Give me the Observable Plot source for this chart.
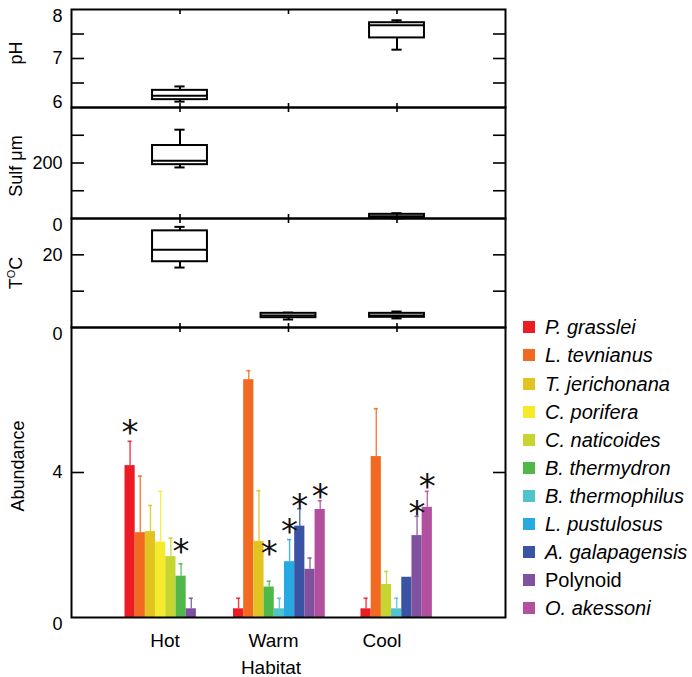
<!DOCTYPE html>
<html><head><meta charset="utf-8">
<script src="https://cdn.jsdelivr.net/npm/d3@7"></script>
<script src="https://cdn.jsdelivr.net/npm/@observablehq/plot@0.6"></script>
<style>
body{margin:0;background:#fff;font-family:"Liberation Sans",Arial,sans-serif;color:#000;}
#wrap{position:relative;width:692px;height:677px;overflow:hidden;background:#fff;}
#wrap svg{position:absolute;left:0;}
.ylab{position:absolute;transform:translate(-50%,-50%) rotate(-90deg);white-space:nowrap;font-size:18px;line-height:1;}
.ylab sup{font-size:11px;vertical-align:7px;line-height:0;}
.xlab{position:absolute;transform:translate(-50%,-50%);white-space:nowrap;font-size:19px;line-height:1;}
.leg{position:absolute;font-size:20px;line-height:1;white-space:nowrap;}
.leg .sw{position:absolute;width:12px;height:12px;}
.leg .tx{position:absolute;transform:translateY(-50%);}
</style></head><body><div id="wrap"></div>
<script>
// ---------------- data ----------------
const habitats = ["Hot", "Warm", "Cool"];
const species = ["P. grasslei", "L. tevnianus", "T. jerichonana", "C. porifera", "C. naticoides",
  "B. thermydron", "B. thermophilus", "L. pustulosus", "A. galapagensis", "Polynoid", "O. akessoni"];
const speciesColors = ["#ec1c24", "#f26a22", "#e3c322", "#f5eb2a", "#c6d530", "#4fb848",
  "#4fc4cd", "#27a9e1", "#3a53a4", "#7f519f", "#b24f9f"];

// five-number summaries: [low whisker, Q1, median, Q3, high whisker]
const pHHot = [6.12, 6.16, 6.24, 6.35, 6.43];
const pHCool = [7.18, 7.42, 7.68, 7.73, 7.78];
const sulfHot = [184, 194, 208, 263, 320];
const sulfCool = [0.5, 1.5, 8, 15, 19];
const tempHot = [16.5, 18.1, 21.4, 26.6, 27.7];
const tempWarm = [2.2, 2.7, 3.3, 3.9, 4.1];
const tempCool = [2.5, 2.8, 3.3, 3.9, 4.4];

// abundance means and errors, species order
const abundHot  = [4.19, 2.34, 2.37, 2.08, 1.68, 1.14, 0, 0, 0, 0.24, 0];
const errHot    = [0.67, 1.56, 0.72, 1.40, 0.51, 0.34, 0, 0, 0, 0.29, 0];
const abundWarm = [0.24, 6.56, 2.10, 0, 0, 0.84, 0.24, 1.54, 2.52, 1.33, 2.98];
const errWarm   = [0.29, 0.25, 1.40, 0, 0, 0.16, 0.29, 0.61, 0.48, 0.31, 0.24];
const abundCool = [0.24, 4.44, 0, 0, 0.91, 0, 0.24, 0, 1.11, 2.26, 3.04];
const errCool   = [0.29, 1.32, 0, 0, 0.36, 0, 0.29, 0, 0, 0.53, 0.44];
// significance asterisk heights (abundance units), null = none
const starHot  = [5.34, null, null, null, null, 2.05, null, null, null, null, null];
const starWarm = [null, null, null, null, null, 2.01, null, 2.61, 3.30, null, 3.56];
const starCool = [null, null, null, null, null, null, null, null, null, 3.09, 3.85];

// ---------------- layout ----------------
const W = 692, ML = 71, MR = 187, PAD = 22;
const wrap = document.getElementById("wrap");
const font = "Liberation Sans, Arial, sans-serif";
const boxHalf = 0.253, capHalf = 0.047, barW = 0.094, eCap = 0.019;
const groupStart = {Hot: -0.507, Warm: -0.507, Cool: -0.332};

function inwardTicks(ticks) {
  return [
    Plot.axisY({anchor: "left", ticks, tickSize: -13, tickFormat: () => "", label: null, strokeWidth: 1.6}),
    Plot.axisY({anchor: "right", ticks, tickSize: -13, tickFormat: () => "", label: null, strokeWidth: 1.6})
  ];
}
function catTicks(anchors) {
  return anchors.map(a => Plot.axisX({anchor: a, ticks: [1, 2, 3], tickSize: -4, tickFormat: () => "", label: null, strokeWidth: 1.6}));
}
function labels(list) {
  return list.map(([v, anchor]) => Plot.axisY({anchor: "left", ticks: [v], tickSize: 0, tickPadding: 9,
    fontSize: 18, lineAnchor: anchor, label: null, tickFormat: d => String(d)}));
}
function boxMarks(boxes) {
  const data = boxes.map(([hi, s]) => ({c: hi + 1, lo: s[0], q1: s[1], med: s[2], q3: s[3], hi: s[4]}));
  const st = {stroke: "#000", strokeWidth: 2};
  return [
    Plot.ruleX(data, {x: "c", y1: "q3", y2: "hi", ...st}),
    Plot.ruleX(data, {x: "c", y1: "lo", y2: "q1", ...st}),
    Plot.ruleY(data, {y: "hi", x1: d => d.c - capHalf, x2: d => d.c + capHalf, ...st}),
    Plot.ruleY(data, {y: "lo", x1: d => d.c - capHalf, x2: d => d.c + capHalf, ...st}),
    Plot.rect(data, {x1: d => d.c - boxHalf, x2: d => d.c + boxHalf, y1: "q1", y2: "q3", fill: "white", ...st}),
    Plot.ruleY(data, {y: "med", x1: d => d.c - boxHalf, x2: d => d.c + boxHalf, ...st})
  ];
}
function panel(top, bottom, domain, marks, extraBottom = 0) {
  const svg = Plot.plot({
    width: W, height: bottom - top + 2 * PAD + extraBottom,
    marginLeft: ML, marginRight: MR, marginTop: PAD, marginBottom: PAD + extraBottom,
    x: {domain: [0, 4], axis: null, label: null},
    y: {domain, axis: null, label: null},
    color: {domain: species, range: speciesColors},
    style: {background: "transparent", overflow: "visible", fontFamily: font, fontSize: "18px", color: "#000"},
    marks
  });
  svg.style.top = (top - PAD) + "px";
  wrap.appendChild(svg);
}

// pH
panel(9, 107, [6, 8], [
  ...boxMarks([[0, pHHot], [2, pHCool]]),
  ...inwardTicks([6.5, 7, 7.5]),
  ...catTicks(["top", "bottom"]),
  ...labels([[8, "top"], [7, "middle"], [6, "bottom"]]),
  Plot.frame({stroke: "#000", strokeWidth: 2})
]);
// Sulfide
panel(107, 218, [0, 400], [
  ...boxMarks([[0, sulfHot], [2, sulfCool]]),
  ...inwardTicks([100, 200, 300]),
  ...catTicks(["top", "bottom"]),
  ...labels([[200, "middle"], [0, "top"]]),
  Plot.frame({stroke: "#000", strokeWidth: 2})
]);
// Temperature
panel(218, 327, [0, 30], [
  ...boxMarks([[0, tempHot], [1, tempWarm], [2, tempCool]]),
  ...inwardTicks([10, 20]),
  ...catTicks(["top", "bottom"]),
  ...labels([[20, "middle"], [0, "top"]]),
  Plot.frame({stroke: "#000", strokeWidth: 2})
]);

// Abundance bars
const abund = {Hot: abundHot, Warm: abundWarm, Cool: abundCool};
const errs = {Hot: errHot, Warm: errWarm, Cool: errCool};
const stars = {Hot: starHot, Warm: starWarm, Cool: starCool};
const bars = habitats.flatMap((h, hi) => {
  let k = 0;
  return species.map((s, si) => ({h, s, v: abund[h][si], e: errs[h][si], star: stars[h][si]}))
    .filter(d => d.v > 0)
    .map(d => {
      const x1 = hi + 1 + groupStart[h] + (k++) * barW;
      return {...d, x1, x2: x1 + barW, mid: x1 + barW / 2, top: d.v + d.e};
    });
});
const errBars = bars.filter(d => d.e > 0);
const starBars = bars.filter(d => d.star != null);

panel(327, 617, [0, 8], [
  Plot.rectY(bars, {x1: "x1", x2: "x2", y: "v", fill: "s"}),
  Plot.ruleX(errBars, {x: "mid", y1: "v", y2: "top", stroke: "s", strokeWidth: 1.4, strokeOpacity: 0.85}),
  Plot.ruleY(errBars, {y: "top", x1: d => d.mid - eCap, x2: d => d.mid + eCap, stroke: "s", strokeWidth: 1.6, strokeOpacity: 0.85}),
  Plot.text(starBars, {x: "mid", y: "star", text: () => "*", fontSize: 34, fontFamily: "DejaVu Sans", dy: 9, fill: "#111"}),
  ...inwardTicks([4]),
  ...catTicks(["top"]),
  ...labels([[4, "middle"], [0, "top"]]),
  Plot.axisX({anchor: "bottom", ticks: [1, 2, 3], tickSize: 0, tickPadding: 16, dx: -15, fontSize: 19, label: null,
    tickFormat: d => habitats[d - 1]}),
  Plot.frame({stroke: "#000", strokeWidth: 2})
], 40);

// axis titles
function addLab(cls, html, x, y) {
  const d = document.createElement("div");
  d.className = cls; d.innerHTML = html;
  d.style.left = x + "px"; d.style.top = y + "px";
  wrap.appendChild(d);
}
addLab("ylab", "pH", 16, 53);
addLab("ylab", "Sulf \u03bcm", 16, 166);
addLab("ylab", "T<sup>O</sup>C", 16, 273);
addLab("ylab", "Abundance", 18, 466);
addLab("xlab", "Habitat", 271, 667);

// legend
const leg = document.createElement("div");
leg.className = "leg"; leg.style.left = "0px"; leg.style.top = "0px";
species.forEach((s, i) => {
  const cy = 327.3 + i * 28.1;
  const sw = document.createElement("div");
  sw.className = "sw"; sw.style.left = "523px"; sw.style.top = (cy - 6) + "px";
  sw.style.background = speciesColors[i];
  const tx = document.createElement("div");
  tx.className = "tx"; tx.style.left = "545px"; tx.style.top = cy + "px";
  tx.style.fontStyle = s === "Polynoid" ? "normal" : "italic";
  tx.textContent = s;
  leg.appendChild(sw); leg.appendChild(tx);
});
wrap.appendChild(leg);
</script></body></html>
